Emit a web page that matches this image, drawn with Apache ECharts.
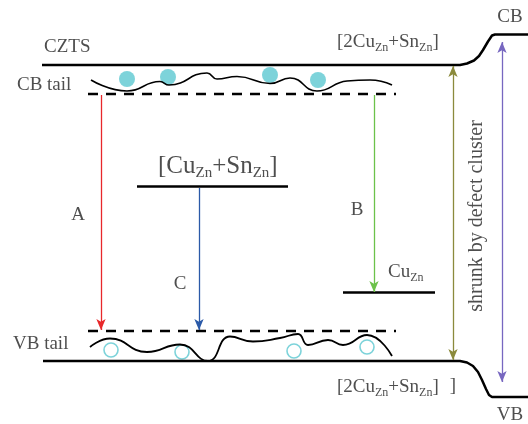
<!DOCTYPE html>
<html><head><meta charset="utf-8">
<script src="https://cdn.jsdelivr.net/npm/echarts@6/dist/echarts.min.js"></script>
<style>html,body{margin:0;padding:0;background:#fff}#c{width:528px;height:424px}</style>
</head><body><div id="c"></div>
<script>
// band edges (x = position across diagram, y = energy in screen-like units, inverted axis)
const cbEdge = [[42,65],[460,65],[467,63.5],[474,60.5],[479,56],[483,50],[488,41.5],[492,35.5],[495,34.5],[528,34.5]];
const vbEdge = [[43,361],[460,361],[467,362.5],[473,366],[478,372],[482,380],[486,389],[489,395],[492,397],[528,397]];
const cbTailDash = [[88,94],[396,94]];
const vbTailDash = [[88,331],[396,331]];
const cbTailWave = [[91,80],[127,91],[160,81.5],[169,85],[207,73],[217,79],[237,76.5],[270,83.5],[290,78],[317,91],[347,81],[370,80],[392,85]];
const vbTailWave = [[90,347],[110,338.5],[147,352],[180,344.5],[208,361],[230,336.5],[253,341.5],[280,338],[298,334],[308,345],[328,340],[343,345],[367,335],[392,356]];
const electrons = [[127,79],[168,77],[270,75],[318,80]];
const holes = [[111,350],[182,352],[294,351],[367,347]];
const defectMid = [[137,186.5],[288,186.5]];
const defectCu = [[343,292.5],[435,292.5]];
// transitions (start, end)
const arrowA = [[101,95],[101,330]];
const arrowB = [[374,95],[374,292]];
const arrowC = [[199,188],[199,330]];
const arrowShrink = [[453,66],[453,360]];
const arrowGap = [[502,42],[502,382]];
// text labels: [x, y, text, align]
const labels = [
  [44,47,'CZTS','left'],
  [17,85,'CB tail','left'],
  [13,344,'VB tail','left'],
  [78,215,'A','center'],
  [357,210,'B','center'],
  [180,284,'C','center'],
  [510,17,'CB','center'],
  [510,415,'VB','center'],
  [337,42,'[2Cu{s|Zn}+Sn{s|Zn}]','left'],
  [337,387,'[2Cu{s|Zn}+Sn{s|Zn}]','left'],
  [453,386,']','center'],
  [388,272,'Cu{s|Zn}','left'],
  [158,166,'[Cu{b|Zn}+Sn{b|Zn}]','left']
];
const rotLabel = [[477,216,'shrunk by defect cluster']];

const FONT = '"Liberation Serif","Times New Roman",serif';
const TXT = '#222';
function lineS(data, opts){
  return Object.assign({type:'line', data, symbol:'none', silent:true, animation:false,
    lineStyle:{color:'#000', width:2.5}}, opts||{});
}
function arrowS(pts, color, both){
  return {type:'line', data:[], silent:true, animation:false,
    markLine:{silent:true, animation:false, symbol:[both?'arrow':'none','arrow'], symbolSize:[7,11],
      label:{show:false}, lineStyle:{color, width:1.3, type:'solid'},
      data:[[{coord:pts[0]},{coord:pts[1]}]]}};
}
const chart = echarts.init(document.getElementById('c'), null, {renderer:'canvas'});
const series = [
  lineS(cbEdge),
  lineS(vbEdge),
  lineS(cbTailDash, {lineStyle:{color:'#000', width:2.5, type:[10,8]}}),
  lineS(vbTailDash, {lineStyle:{color:'#000', width:2.5, type:[10,8]}}),
  lineS(cbTailWave, {smooth:0.5, lineStyle:{color:'#000', width:1.6}}),
  lineS(vbTailWave, {smooth:0.5, lineStyle:{color:'#000', width:1.8}}),
  lineS(defectMid),
  lineS(defectCu),
  {type:'scatter', data:electrons, symbol:'circle', symbolSize:16, silent:true, animation:false,
    itemStyle:{color:'#5cc8d1'}},
  {type:'scatter', data:holes, symbol:'circle', symbolSize:14, silent:true, animation:false,
    itemStyle:{color:'rgba(255,255,255,0)', borderColor:'#5cc8d1', borderWidth:1.6}},
  arrowS(arrowA, '#e8282b', false),
  arrowS(arrowB, '#6cc24a', false),
  arrowS(arrowC, '#2b5aa8', false),
  arrowS(arrowShrink, '#8b8a3c', true),
  arrowS(arrowGap, '#7767c0', true),
  {type:'scatter', silent:true, animation:false, symbolSize:0,
    data: labels.map(l=>({value:[l[0],l[1]], label:{show:true, position:[0,0], formatter:l[2], align:l[3], verticalAlign:'middle',
      fontFamily:FONT, fontSize: l[2].indexOf('{b|')>=0?25:19, color:TXT,
      lineHeight: l[2].indexOf('{b|')>=0?30:24,
      rich:{
        s:{fontFamily:FONT, fontSize:12, color:TXT, lineHeight:12, verticalAlign:'bottom'},
        b:{fontFamily:FONT, fontSize:15, color:TXT, lineHeight:15, verticalAlign:'bottom'}
      }}}))},
  {type:'scatter', silent:true, animation:false, symbolSize:0,
    data: rotLabel.map(l=>({value:[l[0],l[1]], label:{show:true, position:[0,0], formatter:l[2], rotate:90,
      align:'center', verticalAlign:'middle', fontFamily:FONT, fontSize:20, color:TXT}}))}
];
chart.setOption({
  animation:false,
  grid:{left:0,right:0,top:0,bottom:0},
  xAxis:{type:'value', min:0, max:528, show:false},
  yAxis:{type:'value', min:0, max:424, inverse:true, show:false},
  series
});
</script></body></html>
